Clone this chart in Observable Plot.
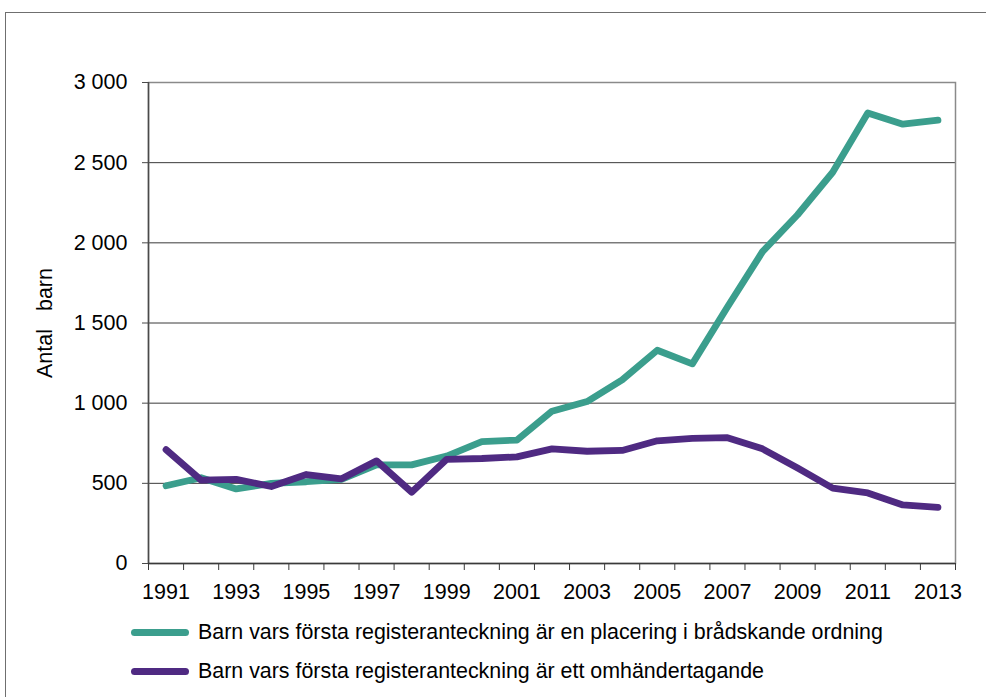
<!DOCTYPE html>
<html><head><meta charset="utf-8">
<script src="https://cdn.jsdelivr.net/npm/d3@7"></script>
<script src="https://cdn.jsdelivr.net/npm/@observablehq/plot@0.6"></script>
<style>
html,body{margin:0;padding:0;background:#fff;overflow:hidden;}
body{width:986px;height:697px;position:relative;font-family:"Liberation Sans",Arial,sans-serif;}
#frame{position:absolute;left:5px;top:12px;width:1200px;height:1200px;border-top:1px solid #6f6f6f;border-left:1px solid #6f6f6f;box-sizing:border-box;pointer-events:none;}
#chart{position:absolute;left:0;top:0;}
#chart svg text{white-space:pre;}
.sw{position:absolute;left:131px;width:58px;height:7px;border-radius:3.5px;}
.lt{position:absolute;left:198px;font-size:21.4px;line-height:24px;color:#000;white-space:nowrap;}
</style>
</head><body>
<div id="frame"></div>
<div id="chart"></div>
<div id="legend"></div>
<script>
const years = [1991,1992,1993,1994,1995,1996,1997,1998,1999,2000,2001,2002,2003,2004,2005,2006,2007,2008,2009,2010,2011,2012,2013];
const placering = [485,535,465,500,510,525,615,615,670,760,770,950,1010,1145,1330,1245,1600,1945,2175,2440,2810,2740,2765];
const omhandertagande = [710,520,525,480,555,528,640,445,650,655,665,715,700,705,765,780,785,715,595,470,440,365,350];
const seriesNames = [
  "Barn vars första registeranteckning är en placering i brådskande ordning",
  "Barn vars första registeranteckning är ett omhändertagande"
];
const colors = ["#3b9e8d", "#4f2a82"];
const yTicks = [0,500,1000,1500,2000,2500,3000];
const yTitle = "Antal   barn";

const xLabelYears = years.filter(y => y % 2 === 1);
const boundaries = years.map(y => y - 0.5).concat([years[years.length-1] + 0.5]);
const data = [];
years.forEach((yr, i) => {
  data.push({year: yr, value: placering[i], series: seriesNames[0]});
  data.push({year: yr, value: omhandertagande[i], series: seriesNames[1]});
});

const chart = Plot.plot({
  width: 986, height: 610,
  marginLeft: 148, marginRight: 31, marginTop: 82, marginBottom: 47,
  style: {fontFamily: "'Liberation Sans', Arial, sans-serif", fontSize: "21.5px", color: "#000", background: "transparent", overflow: "visible"},
  x: {type: "linear", domain: [boundaries[0], boundaries[boundaries.length-1]]},
  y: {domain: [yTicks[0], yTicks[yTicks.length-1]]},
  color: {domain: seriesNames, range: colors},
  marks: [
    Plot.gridY(yTicks.slice(1, -1), {stroke: "#3a3a3a", strokeOpacity: 1, strokeWidth: 1}),
    Plot.frame({stroke: "#8a8a8a", strokeWidth: 1.5}),
    Plot.ruleX([boundaries[0]], {stroke: "#4a4a4a", strokeWidth: 1.5}),
    Plot.ruleY([0], {stroke: "#3a3a3a", strokeWidth: 1.5}),
    Plot.axisY({ticks: yTicks, tickSize: 6, tickPadding: 15, tickFormat: d => d3.format(",")(d).replace(/,/g, "\u00a0"), label: null, stroke: "#4a4a4a"}),
    Plot.axisX({ticks: boundaries, tickSize: 7, tickFormat: () => "", label: null, stroke: "#3a3a3a"}),
    Plot.axisX({ticks: xLabelYears, tickSize: 0, tickPadding: 20, tickFormat: d => String(d), label: null}),
    Plot.line(data, {x: "year", y: "value", z: "series", stroke: "series", strokeWidth: 6.8, strokeLinecap: "round", strokeLinejoin: "round"}),
    Plot.text([yTitle], {frameAnchor: "left", dx: -103, rotate: -90, textAnchor: "middle", fontSize: 21.5, fill: "#000"})
  ]
});
document.getElementById("chart").appendChild(chart);

const legend = document.getElementById("legend");
const rowTops = [620, 659];
seriesNames.forEach((name, i) => {
  const sw = document.createElement("div");
  sw.className = "sw";
  sw.style.top = (rowTops[i] + 8.5) + "px";
  sw.style.background = colors[i];
  legend.appendChild(sw);
  const t = document.createElement("div");
  t.className = "lt";
  t.style.top = rowTops[i] + "px";
  t.textContent = name;
  legend.appendChild(t);
});
</script>
</body></html>
